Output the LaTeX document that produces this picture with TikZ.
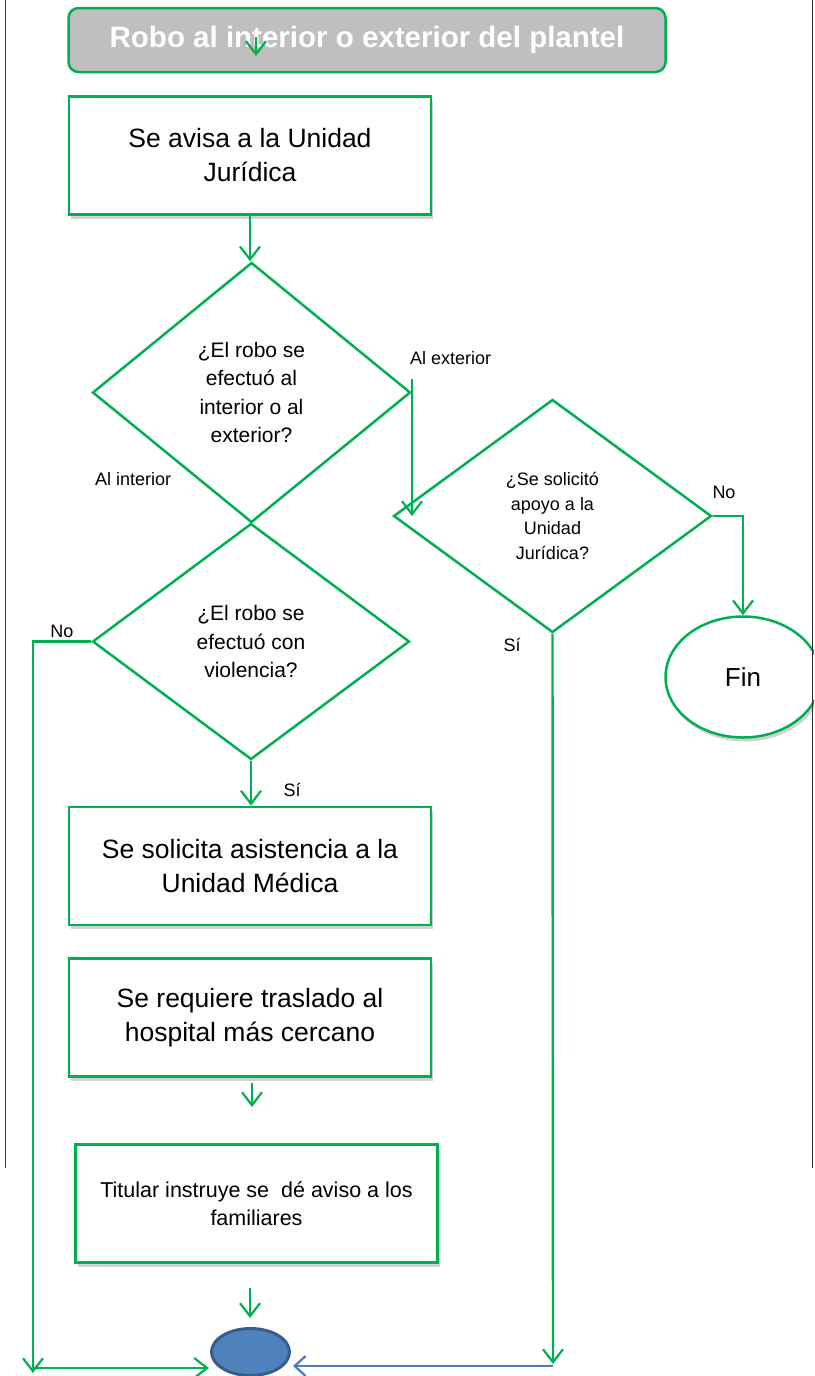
\documentclass[tikz,border=0pt]{standalone}
\usepackage{fontspec}
\setmainfont{Liberation Sans}
\usetikzlibrary{arrows.meta,shapes.geometric,shadows}
\definecolor{gr}{HTML}{00B050}
\definecolor{ttlgray}{HTML}{BFBFBF}
\definecolor{cfill}{HTML}{4F81BD}
\definecolor{cdraw}{HTML}{385D8A}
\definecolor{bline}{HTML}{4A7EBB}
\begin{document}
\begin{tikzpicture}[x=1pt,y=-1pt,
  conn/.style={draw=gr, line width=2.4pt},
  arr/.style={conn, -{Straight Barb[length=13pt,width=20pt,line width=2.2pt]}},
  blarr/.style={draw=bline, line width=2.6pt, -{Straight Barb[length=11pt,width=20pt,line width=2.2pt]}},
  shad/.style={drop shadow={shadow xshift=2pt,shadow yshift=-4pt,fill=black,opacity=0.18}},
  box/.style={draw=gr, line width=2.8pt, fill=white, minimum width=362pt, minimum height=118pt,
    inner sep=0pt, align=center, font=\fontsize{26.5}{34}\selectfont, shad},
  dia/.style={diamond, draw=gr, line width=2.5pt, inner sep=0pt, align=center},
  lab/.style={font=\fontsize{18}{22}\selectfont, inner sep=0pt}
]
\useasboundingbox (0,0) rectangle (814,1376);
\begin{scope}
\clip (0,0) rectangle (814,1376);

% title
\node[draw=gr, line width=2.5pt, fill=ttlgray, rounded corners=10pt, minimum width=597pt,
  minimum height=64pt, inner sep=0pt, text=white, font=\bfseries\fontsize{29.5}{32}\selectfont]
  (title) at (367,40) {Robo al interior o exterior del plantel};
\coordinate (tA) at (256,37);
\coordinate (tB) at (256,56);
\draw[arr] (tA) -- (tB);

% boxes
\node[box] (b1) at (250,155.5) {Se avisa a la Unidad\\Jurídica};
\node[box] (bmed) at (250,866) {Se solicita asistencia a la\\Unidad Médica};
\node[box] (btras) at (250,1017.5) {Se requiere traslado al\\hospital más cercano};
\node[box, font=\fontsize{21.5}{28.5}\selectfont] (btit) at (256.5,1203.5) {Titular instruye se\ \ dé aviso a los\\familiares};

% diamonds
\node[dia, minimum width=318pt, minimum height=260pt, font=\fontsize{21}{28.5}\selectfont]
  (d1) at (251.5,392.5) {¿El robo se\\efectuó al\\interior o al\\exterior?};
\node[dia, minimum width=317pt, minimum height=236pt, font=\fontsize{21}{28.5}\selectfont]
  (d2) at (251,641.5) {¿El robo se\\efectuó con\\violencia?};
\node[dia, minimum width=318pt, minimum height=233pt, font=\fontsize{18}{24.5}\selectfont]
  (d3) at (552.5,516) {¿Se solicitó\\apoyo a la\\Unidad\\Jurídica?};

% end shapes
\node[ellipse, draw=gr, line width=2.5pt, fill=white, minimum width=155pt, minimum height=121pt,
  inner sep=0pt, font=\fontsize{26}{30}\selectfont, shad] (fin) at (743,677) {Fin};
\node[ellipse, draw=cdraw, line width=3pt, fill=cfill, minimum width=78pt, minimum height=47pt,
  inner sep=0pt] (circ) at (250.5,1352) {};

% labels
\node[lab, anchor=west] (lext) at (410,358) {Al exterior};
\node[lab, anchor=west] (lint) at (95,479) {Al interior};
\node[lab] (lno3) at (724,492) {No};
\node[lab] (lno2) at (62,631) {No};
\node[lab] (lsi2) at (292,790) {Sí};
\node[lab] (lsi3) at (512,645) {Sí};

% connectors
\draw[arr] (b1.south) -- (b1.south |- d1.north);
\coordinate (extS) at (412,379);
\draw[arr] (extS) -- (extS |- d3.west);
\draw[arr] (d3.east) -| (fin.north);
\coordinate (rB) at (553,1364);
\draw[arr] (d3.south) -- (rB);
\coordinate (rC) at (553,1366);
\coordinate (cE) at (293,1366);
\draw[blarr] (rC) -- (cE);
\coordinate (lB) at (33,1373);
\draw[arr] (d2.west) -| (lB);
\coordinate (lC) at (33,1368);
\coordinate (cW) at (209,1368);
\draw[arr] (lC) -- (cW);
\draw[arr] (d2.south) -- (d2.south |- bmed.north);
\coordinate (m1) at (252,1083);
\coordinate (m2) at (252,1107);
\draw[arr] (m1) -- (m2);
\coordinate (m3) at (250,1288);
\coordinate (m4) at (250,1318);
\draw[arr] (m3) -- (m4);

% page border lines
\draw[black!80, line width=1pt] (5,0) -- (5,1168);
\draw[black!80, line width=1pt] (812,0) -- (812,1168);
\end{scope}
\end{tikzpicture}
\end{document}
